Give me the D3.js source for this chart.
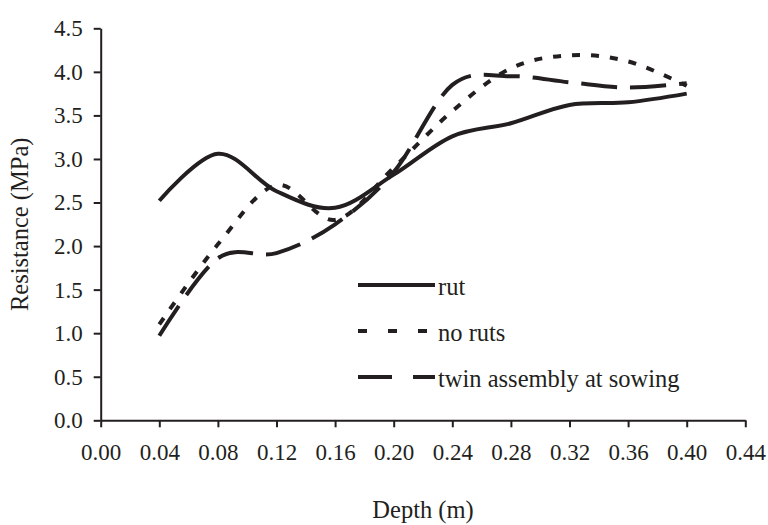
<!DOCTYPE html>
<html>
<head>
<meta charset="utf-8">
<script src="https://cdn.jsdelivr.net/npm/d3@7"></script>
<style>
    body { margin: 0; background: #fff; }
    text { font-family: "Liberation Serif", "DejaVu Serif", serif; fill: #231f20; }
    .axis path, .axis line { stroke: #231f20; stroke-width: 2px; }
    .axis text { font-size: 23px; }
    .line { fill: none; stroke: #231f20; stroke-width: 4px; }
</style>
</head>
<body>
<div id="chart"></div>
<script>
// depth (m) at each reading
var depths = [0.04, 0.08, 0.12, 0.16, 0.20, 0.24, 0.28, 0.32, 0.36, 0.40];

// resistance (MPa) per treatment
var rut = [2.52, 3.06, 2.63, 2.44, 2.82, 3.26, 3.41, 3.62, 3.65, 3.75];
var noRuts = [1.10, 2.02, 2.70, 2.30, 2.90, 3.55, 4.04, 4.19, 4.12, 3.84];
var twin = [0.97, 1.86, 1.92, 2.25, 2.85, 3.85, 3.95, 3.88, 3.82, 3.87];

var seriesNames = ["rut", "no ruts", "twin assembly at sowing"];

var xTicks = [0.00, 0.04, 0.08, 0.12, 0.16, 0.20, 0.24, 0.28, 0.32, 0.36, 0.40, 0.44];
var yTicks = [0.0, 0.5, 1.0, 1.5, 2.0, 2.5, 3.0, 3.5, 4.0, 4.5];

var width = 768, height = 525;
var margin = { top: 28.3, right: 22.7, bottom: 104.7, left: 100.7 };
var innerW = width - margin.left - margin.right,
    innerH = height - margin.top - margin.bottom;

var svg = d3.select("#chart").append("svg")
    .attr("width", width)
    .attr("height", height);

var g = svg.append("g")
    .attr("transform", "translate(" + margin.left + "," + margin.top + ")");

var x = d3.scaleLinear().domain([0, 0.44]).range([0, innerW]);
var y = d3.scaleLinear().domain([0, 4.5]).range([innerH, 0]);

// axes
g.append("g")
    .attr("class", "axis")
    .attr("transform", "translate(0," + innerH + ")")
    .call(d3.axisBottom(x).tickValues(xTicks).tickSize(7).tickSizeOuter(0).tickPadding(16)
        .tickFormat(d3.format(".2f")));

g.append("g")
    .attr("class", "axis")
    .call(d3.axisLeft(y).tickValues(yTicks).tickSize(7).tickSizeOuter(0).tickPadding(11)
        .tickFormat(d3.format(".1f")));

// axis titles
svg.append("text")
    .attr("text-anchor", "middle")
    .attr("x", margin.left + innerW / 2)
    .attr("y", 518)
    .style("font-size", "24.5px")
    .text("Depth (m)");

svg.append("text")
    .attr("text-anchor", "middle")
    .attr("transform", "translate(28," + (margin.top + innerH / 2) + ") rotate(-90)")
    .style("font-size", "24.5px")
    .text("Resistance (MPa)");

// lines
var styles = [
    { values: rut, dash: null, legendDash: null },
    { values: noRuts, dash: "8,11", legendDash: "9,21" },
    { values: twin, dash: "36,13", legendDash: "34,21" }
];

var line = d3.line()
    .x(function(d, i) { return x(depths[i]); })
    .y(function(d) { return y(d); })
    .curve(d3.curveCardinal.tension(0));

styles.forEach(function(s) {
    g.append("path")
        .datum(s.values)
        .attr("class", "line")
        .attr("stroke-dasharray", s.dash)
        .attr("d", line);
});

// legend
var legendY = [285, 331, 377];
var legend = svg.append("g");
styles.forEach(function(s, i) {
    legend.append("line")
        .attr("class", "line")
        .attr("x1", 358).attr("x2", 435)
        .attr("y1", legendY[i]).attr("y2", legendY[i])
        .attr("stroke-dasharray", s.legendDash);
    legend.append("text")
        .attr("x", 438)
        .attr("y", legendY[i] + 10)
        .style("font-size", "24.5px")
        .text(seriesNames[i]);
});
</script>
</body>
</html>
